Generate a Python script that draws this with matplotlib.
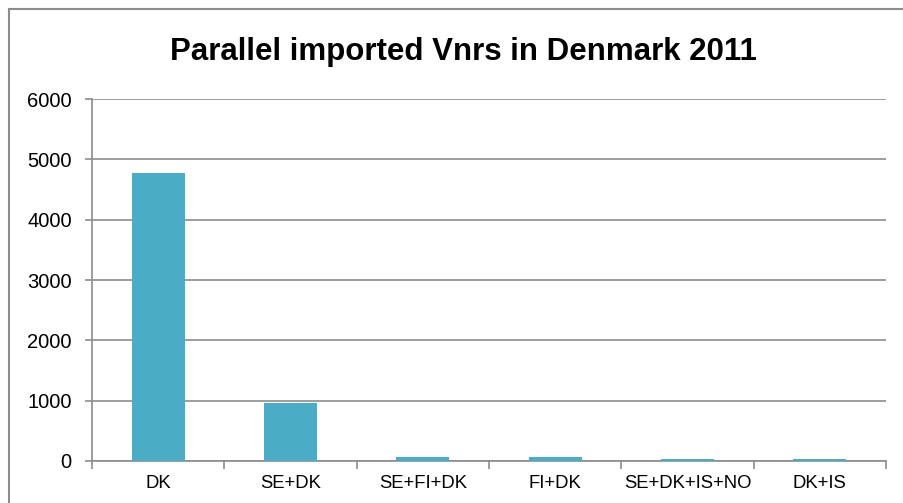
import matplotlib
matplotlib.use("Agg")
import matplotlib.pyplot as plt
from matplotlib.lines import Line2D

categories = ["DK", "SE+DK", "SE+FI+DK", "FI+DK", "SE+DK+IS+NO", "DK+IS"]
values = [4770, 960, 60, 60, 30, 30]
yticks = [0, 1000, 2000, 3000, 4000, 5000, 6000]

plt.rcParams['font.family'] = ['Liberation Sans', 'DejaVu Sans']

W, H = 904, 503
fig = plt.figure(figsize=(W/100, H/100), dpi=100)
fig.patch.set_facecolor('white')

# outer chart border (cropped chart area)
fig.add_artist(Line2D([9/W, 9/W], [0, 1 - 9/H], color='#8c8c8c', lw=1.5, transform=fig.transFigure))
fig.add_artist(Line2D([9/W, 1.0], [1 - 9/H, 1 - 9/H], color='#8c8c8c', lw=1.5, transform=fig.transFigure))

left, right, top, bottom = 92, 886, 99, 461
ax = fig.add_axes([left/W, 1 - bottom/H, (right-left)/W, (bottom-top)/H])

x = list(range(len(categories)))
ax.bar(x, values, width=0.4, color='#4BACC6', zorder=3)

ax.set_xlim(-0.5, len(categories) - 0.5)
ax.set_ylim(0, 6000)
ax.set_yticks(yticks)
ax.set_yticklabels([str(v) for v in yticks], fontsize=14.5)
ax.yaxis.grid(True, color='#8c8c8c', lw=1.2, zorder=0)
ax.set_axisbelow(True)

ax.set_xticks(x)
ax.set_xticklabels(categories, fontsize=13.3)
ax.tick_params(axis='x', length=0, pad=10)
ax.set_xticks([i - 0.5 for i in range(len(categories) + 1)], minor=True)
ax.tick_params(axis='x', which='minor', length=6, color='#8c8c8c', width=1.2)
ax.tick_params(axis='y', length=5, color='#8c8c8c', width=1.2, pad=9.5)

for s in ['top', 'right']:
    ax.spines[s].set_visible(False)
ax.spines['left'].set_color('#8c8c8c')
ax.spines['left'].set_linewidth(1.2)
ax.spines['bottom'].set_color('#8c8c8c')
ax.spines['bottom'].set_linewidth(1.2)

fig.text(463/W, 1 - 52/H, "Parallel imported Vnrs in Denmark 2011", fontsize=22.5,
         fontweight='bold', ha='center', va='center')

fig.savefig("out.png", dpi=100)
